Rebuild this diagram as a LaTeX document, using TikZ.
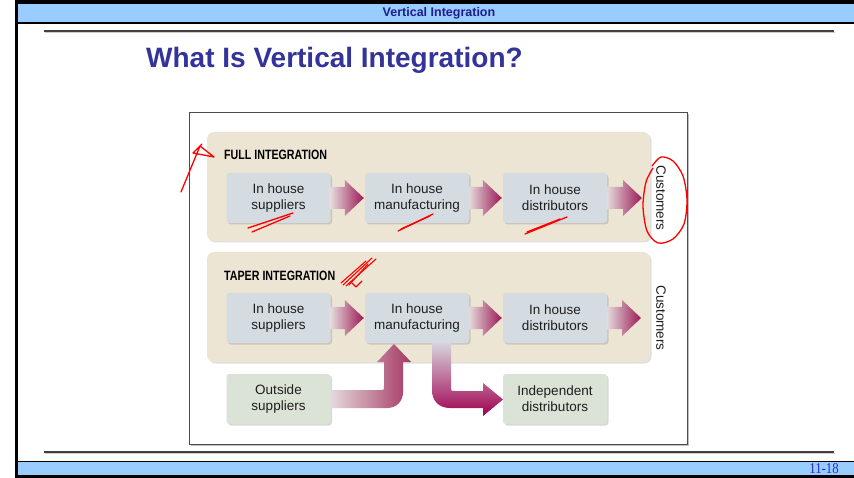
\documentclass[tikz,border=0pt]{standalone}
\usepackage{graphicx}
\usepackage{fontspec}
\setmainfont{Liberation Sans}
\newfontfamily\serifft{Liberation Serif}
\usetikzlibrary{calc,shadows}

\definecolor{bandblue}{RGB}{153,204,255}
\definecolor{titleblue}{RGB}{51,51,153}
\definecolor{hdrblue}{RGB}{30,30,140}
\definecolor{beige}{RGB}{236,229,212}
\definecolor{boxgrey}{RGB}{213,220,225}
\definecolor{boxgreen}{RGB}{219,226,214}
\definecolor{arrlight}{RGB}{228,216,218}
\definecolor{arrdark}{RGB}{155,25,85}
\definecolor{arrmid}{RGB}{165,55,100}
\definecolor{arrtop}{RGB}{214,212,220}
\definecolor{arrdeep}{RGB}{160,0,80}
\definecolor{txt}{RGB}{30,30,30}
\definecolor{footblue}{RGB}{40,40,220}

\newcommand{\flowarrow}[2]{%
  \path[arrowshade] let \p1=#1, \p2=#2 in
    (\x1,\y2+11pt) -- (\x2-19pt,\y2+11pt) -- (\x2-19pt,\y2+18pt) -- (\x2,\y2)
    -- (\x2-19pt,\y2-18pt) -- (\x2-19pt,\y2-11pt) -- (\x1,\y2-11pt) -- cycle;}

\begin{document}
\begin{tikzpicture}[x=1pt,y=-1pt,
  panel/.style={fill=beige, rounded corners=7pt,
    drop shadow={shadow xshift=1.5pt,shadow yshift=-1.5pt,opacity=0.25}},
  stagebox/.style={fill=boxgrey, rounded corners=3pt, minimum width=104pt,
    minimum height=50pt, align=center, font=\fontsize{13.5}{16}\selectfont,
    text=txt, inner sep=0pt,
    drop shadow={shadow xshift=1.5pt,shadow yshift=-1.5pt,opacity=0.3}},
  outbox/.style={stagebox, fill=boxgreen},
  heading/.style={anchor=base west, inner sep=0pt,
    font=\bfseries\fontsize{13.5}{15}\selectfont},
  custlabel/.style={rotate=-90, inner sep=0pt, font=\fontsize{13.5}{16}\selectfont, text=txt},
  arrowshade/.style={left color=arrlight, right color=arrdark},
  redmark/.style={draw=red, line width=1.3pt, line cap=round, line join=round}
]
\useasboundingbox (0,0) rectangle (854,478);
\fill[white] (0,0) rectangle (854,478);

% slide frame
\fill[black] (16,0.5) rectangle (854,4);
\fill[bandblue] (16,4) rectangle (854,22);
\fill[black] (16,22) rectangle (854,24);
\fill[black] (16,460.5) rectangle (854,462);
\fill[bandblue] (16,462) rectangle (854,475);
\fill[black] (16,475) rectangle (854,478);
\fill[black] (15,0.5) rectangle (17.5,478);
\draw[line width=1.6pt, black!75] (44,31) -- (834,31);
\draw[line width=0.8pt, black!20] (45,32.6) -- (835,32.6);
\draw[line width=1.6pt, black!75] (44,452) -- (834,452);
\draw[line width=0.8pt, black!20] (45,453.6) -- (835,453.6);

\node[font=\bfseries\fontsize{12.5}{14}\selectfont, text=hdrblue] (hdr) at (439,13) {Vertical Integration};
\node[anchor=base west, inner sep=0pt, font=\bfseries\fontsize{28}{32}\selectfont, text=titleblue] (title) at (146,68) {What Is Vertical Integration?};
\node[font=\serifft\fontsize{15}{15}\selectfont, text=footblue, inner sep=0pt] (pg) at (824,468.5) {\scalebox{0.85}[1]{11-18}};

% figure frame
\draw[line width=1pt, black!25] (190.5,445.5) -- (688.5,445.5) -- (688.5,114.5);
\draw[line width=1pt, black!70] (189,113) rectangle (687,444);

% panels
\fill[panel] (207,132) rectangle (650,241);
\fill[panel] (207,252) rectangle (650,362);

\node[heading] (fullhd) at (224,160) {\scalebox{0.79}[1]{FULL INTEGRATION}};
\node[heading] (taperhd) at (224,281) {\scalebox{0.79}[1]{TAPER INTEGRATION}};

% full integration row
\node[stagebox] (s1) at (278.5,198) {In house\\suppliers};
\node[stagebox] (m1) at (417,198) {In house\\manufacturing};
\node[stagebox] (d1) at (555,198) {In house\\distributors};
\node[custlabel] (c1) at (661,198) {Customers};
\coordinate (t1) at (642,198);

% taper integration row
\node[stagebox] (s2) at (278.5,318) {In house\\suppliers};
\node[stagebox] (m2) at (417,318) {In house\\manufacturing};
\node[stagebox] (d2) at (555,318) {In house\\distributors};
\node[custlabel] (c2) at (661,318) {Customers};
\coordinate (t2) at (641,318);

% outside row
\node[outbox] (os) at (278.5,399) {Outside\\suppliers};
\node[outbox] (id) at (555,399) {Independent\\distributors};

% straight flow arrows
\flowarrow{(s1.east)}{($(m1.west)+(-1,0)$)}
\flowarrow{(m1.east)}{($(d1.west)+(-1,0)$)}
\flowarrow{(d1.east)}{(t1)}
\flowarrow{(s2.east)}{($(m2.west)+(-1,0)$)}
\flowarrow{(m2.east)}{($(d2.west)+(-1,0)$)}
\flowarrow{(d2.east)}{(t2)}

% outside suppliers -> manufacturing
\path[left color=arrlight, right color=arrmid]
  (331,390) -- (380,390) .. controls (384,390) .. (384,386) -- (384,362)
  -- (377,362) -- (394,344) -- (411,362) -- (403,362) -- (403,392)
  .. controls (403,401) and (397,408) .. (387,408) -- (331,408) -- cycle;

% manufacturing -> independent distributors
\path[top color=arrtop, bottom color=arrdeep]
  (432,343) -- (432,390) .. controls (432,401) and (439,408) .. (450,408)
  -- (483,408) -- (483,416) -- (503,399.5) -- (483,383) -- (483,391)
  -- (455,391) .. controls (451,391) .. (451,387) -- (451,343) -- cycle;

% red hand annotations
\path[redmark] (181,192) -- (200,146) -- (214,157) -- (193,153) -- (202,144);
\path[redmark] (248,228) -- (293,213);
\path[redmark] (252,232) -- (290,216);
\path[redmark] (398,231) -- (433,214);
\path[redmark] (401,229) -- (430,216);
\path[redmark] (525,234) -- (567,217);
\path[redmark] (527,232) -- (560,219);
\path[redmark] plot[smooth] coordinates {(652,166) (661,157) (673,161) (683,176) (687,200) (684,224) (673,239) (658,243) (647,231) (643,206) (646,182) (653,168)};
\path[redmark, line width=1.1pt] (343,285) -- (372,258);
\path[redmark, line width=1.1pt] (346,286) -- (376,259);
\path[redmark, line width=1.1pt] (349,285) -- (368,264);
\path[redmark, line width=1.1pt] (341,283) -- (366,261);
\path[redmark, line width=1.1pt] (352,283) -- (356,287) -- (362,281);
\end{tikzpicture}
\end{document}
